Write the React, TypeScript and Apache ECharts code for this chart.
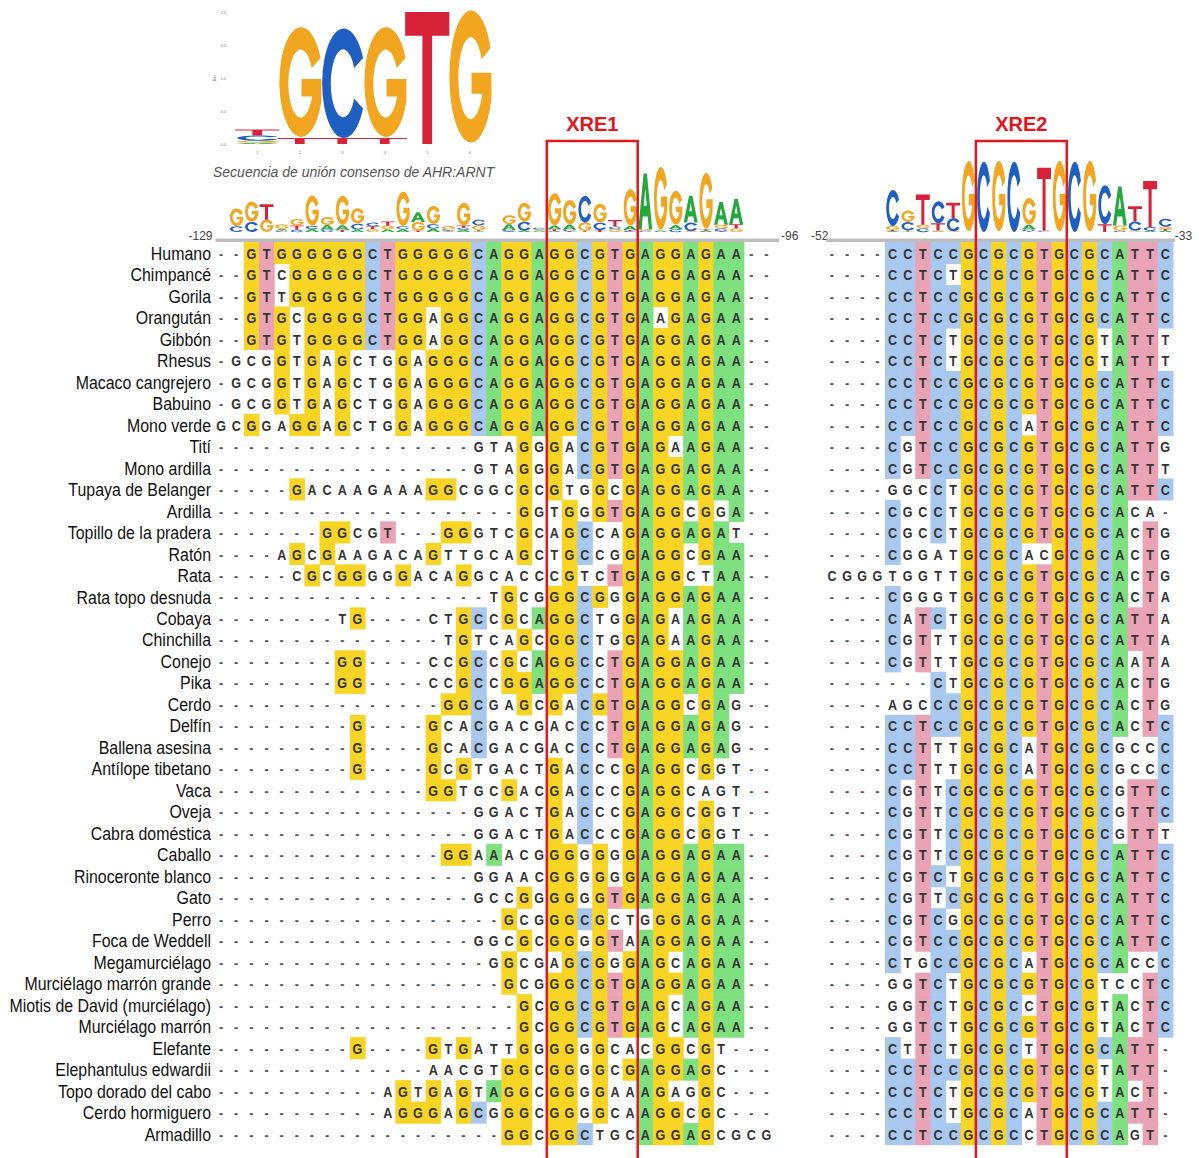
import React, { useEffect, useRef } from 'react';
import * as echarts from 'echarts';

// ---- Alignment data -------------------------------------------------------
const species = [
  'Humano', 'Chimpancé', 'Gorila', 'Orangután', 'Gibbón', 'Rhesus', 'Macaco cangrejero',
  'Babuino', 'Mono verde', 'Tití', 'Mono ardilla', 'Tupaya de Belanger', 'Ardilla',
  'Topillo de la pradera', 'Ratón', 'Rata', 'Rata topo desnuda', 'Cobaya', 'Chinchilla',
  'Conejo', 'Pika', 'Cerdo', 'Delfín', 'Ballena asesina', 'Antílope tibetano', 'Vaca',
  'Oveja', 'Cabra doméstica', 'Caballo', 'Rinoceronte blanco', 'Gato', 'Perro',
  'Foca de Weddell', 'Megamurciélago', 'Murciélago marrón grande',
  'Miotis de David (murciélago)', 'Murciélago marrón', 'Elefante', 'Elephantulus edwardii',
  'Topo dorado del cabo', 'Cerdo hormiguero', 'Armadillo',
];

const g = (n: number) => '-'.repeat(n);

// Region -129 .. -96 (XRE1)
const leftSeqs = [
  '--GTGGGGGGCTGGGGGCAGGAGGCGTGAGGAGAA--',
  '--GTCGGGGGCTGGGGGCAGGAGGCGTGAGGAGAA--',
  '--GTTGGGGGCTGGGGGCAGGAGGCGTGAGGAGAA--',
  '--GTGCGGGGCTGGAGGCAGGAGGCGTGAAGAGAA--',
  '--GTGTGGGGCTGGAGGCAGGAGGCGTGAGGAGAA--',
  '-GCGGTGAGCTGGAGGGCAGGAGGCGTGAGGAGAA--',
  '-GCGGTGAGCTGGAGGGCAGGAGGCGTGAGGAGAA--',
  '-GCGGTGAGCTGGAGGGCAGGAGGCGTGAGGAGAA--',
  'GCGGAGGAGCTGGAGGGCAGGAGGCGTGAGGAGAA--',
  g(17) + 'GTAGGGACGTGAGAAGAA--',
  g(17) + 'GTAGGGACGTGAGGAGAA--',
  g(5) + 'GACAAGAAAGGCGGCGCGTGGCGAGGAGAA--',
  g(20) + 'GGTGGGTGAGGCGGA--',
  g(7) + 'GGCGT' + g(3) + 'GGGTCGCAGCCAGAGGAGAT--',
  g(4) + 'AGCGAAGACAGTTGCAGCTGCCGGAGGCGAA--',
  g(5) + 'CGCGGGGGACAGGCACCCGTCTGAGGCTAA--',
  g(18) + 'TGCGGGCGGGAGGAGAA--',
  g(8) + 'TG' + g(4) + 'CTGCCGCAGGCTGGAGAAGAA--',
  g(15) + 'TGTCAGCGGCTGGAGAAGAA--',
  g(8) + 'GG' + g(4) + 'CCGCCGCAGGCCTGAGGAGAA--',
  g(8) + 'GG' + g(4) + 'CCGCCGGAGGCCTGAGGAGAA--',
  g(15) + 'GGCGAGCGACGTGAGGCGAG--',
  g(9) + 'G' + g(4) + 'GCACGACGACCCTGAGGAGAG--',
  g(9) + 'G' + g(4) + 'GCACGACGACCCTGAGGAGAG--',
  g(9) + 'G' + g(4) + 'GCGTGACTGACCCGAGGCGGT--',
  g(14) + 'GGTGCGACGACCCGAGGCAGT--',
  g(17) + 'GGACTGACCCGAGGCGGT--',
  g(17) + 'GGACTGACCCGAGGCGGT--',
  g(15) + 'GGAAACGGGGGGGAGGAGAA--',
  g(17) + 'GGAACGGGGGGAGGAGAA--',
  g(17) + 'GCCGGGGGGTGAGGAGAA--',
  g(19) + 'GCGGGCGCTGGGAGAA--',
  g(17) + 'GGCGCGGGGTAAGGAGAA--',
  g(18) + 'GGCGAGCGGGAGCAGAA--',
  g(19) + 'GCGGGCGTGAGGAGAA--',
  g(20) + 'GCGGCGTGAGCAGAA--',
  g(20) + 'GCGGCGTGAGCAGAA--',
  g(9) + 'G' + g(4) + 'GTGATTGGGGGGCACGGCGT---',
  g(14) + 'AACGTGGCGGGGCGAGGAGC---',
  g(11) + 'AGTGAGTAGGCGGGGAAAGAGGC---',
  g(11) + 'AGGGAGCGGGCGGGGCAAGGCGC---',
  g(19) + 'GGCGGCTGCAGGAGCGCG',
];

// Region -52 .. -33 (XRE2)
const rightSeqs = [
  '----CCTCCGCGCGTGCGCATTC',
  '----CCTCTGCGCGTGCGCATTC',
  '----CCTCCGCGCGTGCGCATTC',
  '----CCTCCGCGCGTGCGCATTC',
  '----CCTCTGCGCGTGCGTATTT',
  '----CCTCTGCGCGTGCGTATTT',
  '----CCTCCGCGCGTGCGCATTC',
  '----CCTCCGCGCGTGCGCATTC',
  '----CCTCCGCGCATGCGCATTC',
  '----CGTCCGCGCGTGCGCATTG',
  '----CGTCCGCGCGTGCGCATTT',
  '----GGCCTGCGCGTGCGCATTC',
  '----CGCCTGCGCGTGCGCACA-',
  '----CGCCTGCGCGTGCGCACTG',
  '----CGGATGCGCACGCGCACTG',
  'CGGGTGGTTGCGCGTGCGCACTG',
  '----CGGGTGCGCGTGCGCACTA',
  '----CATCTGCGCGTGCGCATTA',
  '----CGTTTGCGCGTGCGCATTA',
  '----CGTTTGCGCGTGCGCAATA',
  '-------CTGCGCGTGCGCACTG',
  '----AGCCCGCGCGTGCGCACTG',
  '----CCTCCGCGCGTGCGCACTC',
  '----CCTTTGCGCATGCGCGCCC',
  '----CCTTTGCGCATGCGCGCCC',
  '----CGTTCGCGCGTGCGCGTTC',
  '----CGTTCGCGCGTGCGCGTTC',
  '----CGTTCGCGCGTGCGCGTTT',
  '----CGTTCGCGCGTGCGCATTC',
  '----CGTCTGCGCGTGCGCATTC',
  '----CGTTCGCGCGTGCGCATTC',
  '----CGTCGGCGCGTGCGCATTC',
  '----CGTCCGCGCGTGCGCATTC',
  '----CTGCCGCGCATGCGCACCC',
  '----GGTCTGCGCGTGCGTCCTC',
  '----GGTCTGCGCCTGCGTACTC',
  '----GGTCTGCGCGTGCGTACTC',
  '----CTTCTGCGCTTGCGCATT-',
  '----CCTCCGCGCGTGCGTATT-',
  '----CCTCTGCGCGTGCGTACT-',
  '----CCTCTGCGCATGCGCATT-',
  '----CCTCCGCGCCTGCGCAGT-',
];

// Position labels of the two regions
const leftRange = ['-129', '-96'];
const rightRange = ['-52', '-33'];
const siteNames = ['XRE1', 'XRE2'];
// XRE core columns (first, last) in each region
const leftSite = [22, 27];
const rightSite = [10, 15];

// AHR:ARNT consensus motif, letter heights in bits per position
const motifPositions = ['1', '2', '3', '4', '5', '6'];
const motifA = [0.02, 0, 0, 0, 0, 0];
const motifC = [0.08, 0, 1.66, 0, 0, 0];
const motifG = [0.03, 1.66, 0, 1.66, 0, 2.0];
const motifT = [0.09, 0.09, 0.09, 0.09, 2.0, 0];
const motifCaption = 'Secuencia de unión consenso de AHR:ARNT';

// ---- Styling --------------------------------------------------------------
const BASES = 'ACGT';
const cellColors: Record<string, string> = { A: '#7EE07F', C: '#A9C8EF', G: '#F8D424', T: '#E9A3B4' };
const logoColors = ['#22A83C', '#1F5FC2', '#F2A51F', '#D8223A'];
// glyph outlines drawn in a 100 x 100 box
const letterPaths = [
  'M0 100L38 0L62 0L100 100L76 100L68 77L32 77L24 100Z M39 58L61 58L50 27Z',
  'M97 27A49 50 0 1 0 97 73L77 64A28 31 0 1 1 77 36Z',
  'M97 27A49 50 0 1 0 99 66L99 46L54 46L54 62L78 62A28 31 0 1 1 77 36Z',
  'M0 0L100 0L100 18L61 18L61 100L39 100L39 18L0 18Z',
];
const SANS = '"Liberation Sans", Arial, sans-serif';

const COL_W = 15.15;
const ROW_H = 21.49;
const LEFT_X = 213.5;
const RIGHT_X = 824.4;
const ALIGN_TOP = 242;
const LOGO_BASE = 232;
const LOGO_H = 72;

// Information content per column (with the usual small-sample correction),
// split into letter stacks, smallest letter at the bottom
function logoStacks(seqs: string[]) {
  const out: number[][] = [];
  for (let c = 0; c < seqs[0].length; c++) {
    const counts = [0, 0, 0, 0];
    seqs.forEach((s) => {
      const i = BASES.indexOf(s[c]);
      if (i >= 0) counts[i]++;
    });
    const tot = counts.reduce((a, b) => a + b, 0);
    if (!tot) continue;
    let H = 0;
    counts.forEach((k) => {
      if (k) {
        const p = k / tot;
        H -= p * Math.log2(p);
      }
    });
    const correction = 3 / (2 * Math.LN2 * tot);
    const ic = Math.max(0, 2 - H - correction);
    if (ic <= 0) continue;
    const order = [0, 1, 2, 3].filter((i) => counts[i]).sort((a, b) => counts[a] - counts[b]);
    let y = 0;
    order.forEach((i) => {
      const h = (ic * counts[i]) / tot;
      out.push([c, y, y + h, i]);
      y += h;
    });
  }
  return out;
}

function motifStacks() {
  const out: number[][] = [];
  motifPositions.forEach((_, c) => {
    const hs = [motifA[c], motifC[c], motifG[c], motifT[c]];
    const order = [0, 1, 2, 3].filter((i) => hs[i] > 0).sort((a, b) => hs[a] - hs[b]);
    let y = 0;
    order.forEach((i) => {
      out.push([c, y, y + hs[i], i]);
      y += hs[i];
    });
  });
  return out;
}

// Stretched logo glyph: the 100x100 outline is scaled to the stack slot
function letterRenderer(widthRatio: number) {
  return (params: any, api: any) => {
    const c = api.value(0);
    const b = api.coord([c, api.value(1)]);
    const t = api.coord([c, api.value(2)]);
    const li = api.value(3);
    const h = b[1] - t[1];
    if (h < 0.4) return null;
    const w = api.size([1, 0])[0] * widthRatio;
    return {
      type: 'path',
      x: b[0] - w / 2,
      y: t[1],
      scaleX: w / 100,
      scaleY: h / 100,
      shape: { pathData: letterPaths[li] },
      style: { fill: logoColors[li] },
    };
  };
}

function alignmentRenderer(seqs: string[]) {
  return (params: any, api: any) => {
    const c = api.value(0);
    const r = api.value(1);
    const ch = seqs[r][c];
    const ref = seqs[0][c];
    const p = api.coord([c, r]);
    const s = api.size([1, 1]);
    const children: any[] = [];
    if (ch !== '-' && ch === ref) {
      children.push({
        type: 'rect',
        shape: { x: p[0] - s[0] / 2, y: p[1] - s[1] / 2, width: s[0] + 0.6, height: s[1] + 0.6 },
        style: { fill: cellColors[ch] },
      });
    }
    children.push({
      type: 'text',
      x: p[0],
      y: p[1] + 0.5,
      scaleX: 0.84,
      style: {
        text: ch,
        fill: ch === '-' ? '#555' : '#333',
        fontSize: 15,
        fontWeight: 'bold',
        fontFamily: SANS,
        align: 'center',
        verticalAlign: 'middle',
      },
    });
    return { type: 'group', children };
  };
}

// Species names, condensed like the alignment letters
function nameRenderer(params: any, api: any) {
  const r = api.value(1);
  const p = api.coord([0, r]);
  const s = api.size([1, 1]);
  return {
    type: 'text',
    x: p[0] - s[0] / 2 - 2.5,
    y: p[1] + 0.5,
    scaleX: 0.86,
    style: {
      text: species[r],
      fill: '#111',
      fontSize: 18.5,
      fontFamily: SANS,
      align: 'right',
      verticalAlign: 'middle',
    },
  };
}

function cells(seqs: string[]) {
  const out: number[][] = [];
  seqs.forEach((s, r) => {
    for (let c = 0; c < s.length; c++) out.push([c, r]);
  });
  return out;
}

export default function App() {
  const ref = useRef<HTMLDivElement>(null);

  useEffect(() => {
    document.body.style.margin = '0';
    if (!ref.current) return;
    const chart = echarts.init(ref.current, undefined, { renderer: 'svg' });

    const leftCols = leftSeqs[0].split('').map((_, i) => String(i));
    const rightCols = rightSeqs[0].split('').map((_, i) => String(i));
    const leftW = leftCols.length * COL_W;
    const rightW = rightCols.length * COL_W;
    const alignH = species.length * ROW_H;

    const boxes = [
      { x0: LEFT_X + leftSite[0] * COL_W, x1: LEFT_X + (leftSite[1] + 1) * COL_W, name: siteNames[0] },
      { x0: RIGHT_X + rightSite[0] * COL_W, x1: RIGHT_X + (rightSite[1] + 1) * COL_W, name: siteNames[1] },
    ];

    const graphic: any[] = [
      // grey ruler above each region
      { type: 'rect', shape: { x: LEFT_X + 2, y: 238.5, width: leftW + 3, height: 3.5 }, style: { fill: '#BDBDBD' }, z: 5 },
      { type: 'rect', shape: { x: RIGHT_X + 2, y: 238.5, width: rightW, height: 3.5 }, style: { fill: '#BDBDBD' }, z: 5 },
      { type: 'text', x: LEFT_X - 1, y: 236, style: { text: leftRange[0], fill: '#444', fontSize: 12, fontFamily: SANS, align: 'right', verticalAlign: 'middle' } },
      { type: 'text', x: LEFT_X + leftW + 7, y: 236, style: { text: leftRange[1], fill: '#444', fontSize: 12, fontFamily: SANS, align: 'left', verticalAlign: 'middle' } },
      { type: 'text', x: RIGHT_X + 4, y: 236, style: { text: rightRange[0], fill: '#444', fontSize: 12, fontFamily: SANS, align: 'right', verticalAlign: 'middle' } },
      { type: 'text', x: RIGHT_X + rightW + 2, y: 236, style: { text: rightRange[1], fill: '#444', fontSize: 12, fontFamily: SANS, align: 'left', verticalAlign: 'middle' } },
      { type: 'text', x: 213, y: 172, style: { text: motifCaption, fill: '#555', fontSize: 14, fontStyle: 'italic', fontFamily: SANS, align: 'left', verticalAlign: 'middle' } },
    ];
    boxes.forEach((b) => {
      graphic.push({
        type: 'rect',
        shape: { x: b.x0, y: 141, width: b.x1 - b.x0, height: 1100 },
        style: { fill: 'none', stroke: '#E3161C', lineWidth: 2.5 },
        z: 20,
      });
      graphic.push({
        type: 'text',
        x: (b.x0 + b.x1) / 2,
        y: 124,
        style: { text: b.name, fill: '#E3161C', fontSize: 20, fontWeight: 'bold', fontFamily: SANS, align: 'center', verticalAlign: 'middle' },
        z: 20,
      });
    });

    const hidden = { show: false };
    const option: any = {
      animation: false,
      backgroundColor: '#ffffff',
      grid: [
        { left: 236, top: 12, width: 255, height: 132 },
        { left: LEFT_X, top: ALIGN_TOP, width: leftW, height: alignH },
        { left: RIGHT_X, top: ALIGN_TOP, width: rightW, height: alignH },
        { left: LEFT_X, top: LOGO_BASE - LOGO_H, width: leftW, height: LOGO_H },
        { left: RIGHT_X, top: LOGO_BASE - LOGO_H, width: rightW, height: LOGO_H },
      ],
      xAxis: [
        {
          gridIndex: 0, type: 'category', data: motifPositions,
          axisLine: hidden, axisTick: hidden,
          axisLabel: { fontSize: 4, color: '#777', margin: 6 },
        },
        { gridIndex: 1, type: 'category', data: leftCols, show: false },
        { gridIndex: 2, type: 'category', data: rightCols, show: false },
        { gridIndex: 3, type: 'category', data: leftCols, show: false },
        { gridIndex: 4, type: 'category', data: rightCols, show: false },
      ],
      yAxis: [
        {
          gridIndex: 0, type: 'value', min: 0, max: 2, interval: 0.5,
          axisLine: hidden, axisTick: hidden, splitLine: hidden,
          axisLabel: { fontSize: 4, color: '#777', margin: 10, formatter: (v: number) => v.toFixed(1) },
          name: 'Bits', nameLocation: 'middle', nameGap: 18,
          nameTextStyle: { fontSize: 4, color: '#777' },
        },
        { gridIndex: 1, type: 'category', data: species, inverse: true, show: false },
        { gridIndex: 2, type: 'category', data: species, inverse: true, show: false },
        { gridIndex: 3, type: 'value', min: 0, max: 2, show: false },
        { gridIndex: 4, type: 'value', min: 0, max: 2, show: false },
      ],
      series: [
        {
          type: 'custom', xAxisIndex: 0, yAxisIndex: 0,
          renderItem: letterRenderer(1.04), data: motifStacks(),
        },
        {
          type: 'custom', xAxisIndex: 1, yAxisIndex: 1,
          renderItem: alignmentRenderer(leftSeqs), data: cells(leftSeqs),
        },
        {
          type: 'custom', xAxisIndex: 1, yAxisIndex: 1,
          renderItem: nameRenderer, data: species.map((_, r) => [0, r]),
        },
        {
          type: 'custom', xAxisIndex: 2, yAxisIndex: 2,
          renderItem: alignmentRenderer(rightSeqs), data: cells(rightSeqs),
        },
        {
          type: 'custom', xAxisIndex: 3, yAxisIndex: 3,
          renderItem: letterRenderer(0.92), data: logoStacks(leftSeqs),
        },
        {
          type: 'custom', xAxisIndex: 4, yAxisIndex: 4,
          renderItem: letterRenderer(0.92), data: logoStacks(rightSeqs),
        },
      ],
      graphic,
    };

    chart.setOption(option);
    return () => chart.dispose();
  }, []);

  return <div ref={ref} style={{ width: 1199, height: 1158 }} />;
}
